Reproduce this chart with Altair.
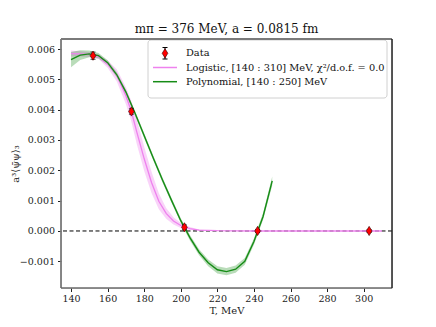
import altair as alt
import pandas as pd

# Data points
data_T = [152, 173, 202, 242, 303]
data_y = [0.00578, 0.00394, 0.00012, 0.0, 0.0]
data_err = [0.00012, 0.00009, 0.00008, 0.00005, 0.00005]

# Polynomial fit, [140:250] MeV
poly_T = [140, 145, 150, 155, 160, 165, 170, 175, 180, 185, 190, 195, 200, 205,
          210, 215, 220, 225, 230, 235, 240, 245, 250]
poly_y = [0.00565, 0.00580, 0.00584, 0.00578, 0.00555, 0.00515, 0.00458, 0.00388,
          0.00314, 0.00240, 0.00168, 0.00100, 0.00034, -0.00022, -0.00070, -0.00105,
          -0.00128, -0.00134, -0.00126, -0.00100, -0.00035, 0.00048, 0.00165]
poly_err = [0.00025, 0.00016, 0.00011, 0.00009, 0.00008, 0.00008, 0.00008, 0.00008,
            0.00008, 0.00008, 0.00008, 0.00008, 0.00008, 0.00009, 0.00010, 0.00011,
            0.00012, 0.00012, 0.00012, 0.00011, 0.00010, 0.00011, 0.00015]

# Logistic fit, [140:310] MeV
log_T = [140, 145, 150, 155, 160, 165, 170, 173, 176, 180, 184, 188, 192, 196,
         200, 205, 210, 220, 240, 270, 310]
log_y = [0.00585, 0.00584, 0.00582, 0.00575, 0.00550, 0.00513, 0.00446, 0.00394,
         0.00325, 0.00238, 0.00160, 0.00098, 0.00058, 0.00033, 0.00018, 0.00008,
         0.00003, 0.00001, 0.0, 0.0, 0.0]
log_err = [0.00010, 0.00009, 0.00008, 0.00008, 0.00012, 0.00020, 0.00028, 0.00034,
           0.00040, 0.00040, 0.00035, 0.00026, 0.00018, 0.00012, 0.00008, 0.00005,
           0.00002, 0.00001, 0.0, 0.0, 0.0]

x_ticks = [140, 160, 180, 200, 220, 240, 260, 280, 300]
y_ticks = [-0.001, 0.0, 0.001, 0.002, 0.003, 0.004, 0.005, 0.006]

legend_labels = ["Data", "Logistic, [140 : 310] MeV, χ²/d.o.f. = 0.0", "Polynomial, [140 : 250] MeV"]

FONT = "DejaVu Serif"
GREEN = "#168c16"
VIOLET = "#EE82EE"
W, H = 331, 249

pts = pd.DataFrame({"T": data_T, "y": data_y,
                    "lo": [a - b for a, b in zip(data_y, data_err)],
                    "hi": [a + b for a, b in zip(data_y, data_err)]})
poly = pd.DataFrame({"T": poly_T, "y": poly_y,
                     "lo": [a - b for a, b in zip(poly_y, poly_err)],
                     "hi": [a + b for a, b in zip(poly_y, poly_err)]})
logi = pd.DataFrame({"T": log_T, "y": log_y,
                     "lo": [a - b for a, b in zip(log_y, log_err)],
                     "hi": [a + b for a, b in zip(log_y, log_err)]})

xs = alt.Scale(domain=[134.5, 315.5], nice=False, zero=False)
ys = alt.Scale(domain=[-0.00188, 0.00633], nice=False, zero=False)

xax = alt.Axis(values=x_ticks, format="d", title="T, MeV", grid=False,
               tickSize=3.5, tickColor="#222", labelPadding=2, titlePadding=2,
               domain=False, labelFontSize=9.5, titleFontSize=10, labelOverlap=False,
               labelFont=FONT, titleFont=FONT, titleFontWeight="normal", labelColor="#222",
               titleColor="#222")
yax = alt.Axis(values=y_ticks, format=".3f", title="a³⟨ψ̄ψ⟩₃", grid=False,
               tickSize=3.5, tickColor="#222", labelPadding=3,
               titleX=-46, titleY=H / 2, titleAngle=270, titleAlign="center",
               titleBaseline="middle",
               domain=False, labelFontSize=9.5, titleFontSize=10, labelOverlap=False,
               labelFont=FONT, titleFont=FONT, titleFontWeight="normal", labelColor="#222",
               titleColor="#222")

AX = alt.X("T:Q", scale=xs, axis=xax)


def AY(f):
    return alt.Y(f, scale=ys, axis=yax)


log_band = alt.Chart(logi).mark_area(color=VIOLET, opacity=0.35).encode(
    x=AX, y=AY("lo:Q"), y2="hi:Q")
poly_band = alt.Chart(poly).mark_area(color=GREEN, opacity=0.3).encode(
    x=AX, y=AY("lo:Q"), y2="hi:Q")
log_line = alt.Chart(logi).mark_line(color=VIOLET, strokeWidth=1.3).encode(
    x=AX, y=AY("y:Q"))
poly_line = alt.Chart(poly).mark_line(color=GREEN, strokeWidth=1.4).encode(
    x=AX, y=AY("y:Q"))

zero = alt.Chart(pd.DataFrame({"z": [0.0]})).mark_rule(
    color="black", strokeDash=[4, 2.5], strokeWidth=1).encode(y=AY("z:Q"))

err = alt.Chart(pts).mark_rule(color="black", strokeWidth=1).encode(
    x=AX, y=AY("lo:Q"), y2="hi:Q")
caps_lo = alt.Chart(pts).mark_tick(color="black", thickness=1, size=5, orient="horizontal").encode(
    x=AX, y=AY("lo:Q"))
caps_hi = alt.Chart(pts).mark_tick(color="black", thickness=1, size=5, orient="horizontal").encode(
    x=AX, y=AY("hi:Q"))
DIAMOND = "M0,-1L0.62,0L0,1L-0.62,0Z"
markers = alt.Chart(pts).mark_point(shape=DIAMOND, filled=True, fill="red", stroke="#300",
                                    strokeWidth=0.6, opacity=1, size=85).encode(
    x=AX, y=AY("y:Q"))

# Legend
one = pd.DataFrame({"k": [0]})
leg_box = alt.Chart(one).mark_rect(fill="white", fillOpacity=0.85, stroke="#d0d0d0",
                                   strokeWidth=1, cornerRadius=3).encode(
    x=alt.value(87), x2=alt.value(326), y=alt.value(1), y2=alt.value(59))
leg_err = alt.Chart(one).mark_rule(color="black", strokeWidth=1).encode(
    x=alt.value(104), y=alt.value(8.5), y2=alt.value(20))
leg_cap1 = alt.Chart(one).mark_rule(color="black", strokeWidth=1).encode(
    x=alt.value(101.5), x2=alt.value(106.5), y=alt.value(8.5))
leg_cap2 = alt.Chart(one).mark_rule(color="black", strokeWidth=1).encode(
    x=alt.value(101.5), x2=alt.value(106.5), y=alt.value(20))
leg_dia = alt.Chart(one).mark_point(shape=DIAMOND, filled=True, fill="red", stroke="#300",
                                    strokeWidth=0.6, opacity=1, size=85).encode(
    x=alt.value(104), y=alt.value(14.3))
leg_l1 = alt.Chart(one).mark_rule(color=VIOLET, strokeWidth=1.5).encode(
    x=alt.value(92), x2=alt.value(116), y=alt.value(28.5))
leg_l2 = alt.Chart(one).mark_rule(color=GREEN, strokeWidth=1.5).encode(
    x=alt.value(92), x2=alt.value(116), y=alt.value(42.7))
leg_txt = alt.Chart(pd.DataFrame({"label": legend_labels, "yy": [14.3, 28.5, 42.7]})).mark_text(
    align="left", baseline="middle", font=FONT, fontSize=9.8, color="#111").encode(
    x=alt.value(125), y=alt.Y("yy:Q", scale=None), text="label:N")

# Frame (spines)
sp_left = alt.Chart(one).mark_rule(color="#7a7a7a", strokeWidth=1.8).encode(
    x=alt.value(0), y=alt.value(0), y2=alt.value(H))
sp_top = alt.Chart(one).mark_rule(color="#7a7a7a", strokeWidth=1.8).encode(
    x=alt.value(0), x2=alt.value(W), y=alt.value(0))
sp_bot = alt.Chart(one).mark_rule(color="#6a6a6a", strokeWidth=1.6).encode(
    x=alt.value(0), x2=alt.value(W), y=alt.value(H))
sp_right = alt.Chart(one).mark_rule(color="#222", strokeWidth=1.5).encode(
    x=alt.value(W), y=alt.value(0), y2=alt.value(H))

chart = alt.layer(
    log_band, poly_band, zero, log_line, poly_line, err, caps_lo, caps_hi, markers,
    leg_box, leg_err, leg_cap1, leg_cap2, leg_dia, leg_l1, leg_l2, leg_txt,
    sp_left, sp_top, sp_bot, sp_right
).properties(
    width=W, height=H,
    title=alt.Title("mπ = 376 MeV, a = 0.0815 fm", font=FONT, fontSize=12,
                    fontWeight="normal", color="#111", offset=2),
    autosize=alt.AutoSizeParams(type="none"),
    padding={"left": 53, "top": 31, "right": 36, "bottom": 31},
).configure_view(stroke=None).configure_axis(labelOverlap=False).configure(
    background="white", font=FONT)

chart.save("out.html", embed_options={"renderer": "svg", "actions": False})
